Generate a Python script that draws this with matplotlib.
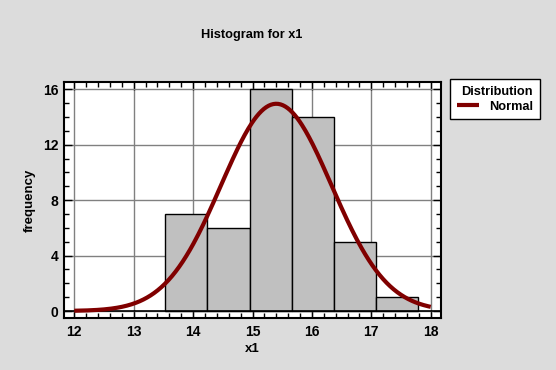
import numpy as np
import matplotlib
matplotlib.use("Agg")
import matplotlib.pyplot as plt
from matplotlib.ticker import MultipleLocator

# Data
bin_edges = [13.52, 14.23, 14.95, 15.66, 16.37, 17.08, 17.79]
counts = [7, 6, 16, 14, 5, 1]
# fitted normal distribution parameters
fit_mean = 15.40
fit_sd = 0.93
curve_range = [12.0, 18.0]
xticks = [12, 13, 14, 15, 16, 17, 18]
yticks = [0, 4, 8, 12, 16]

plt.rcParams['font.family'] = ['Liberation Sans', 'DejaVu Sans']
plt.rcParams['font.weight'] = 'bold'

bg = '#dcdcdc'
fig = plt.figure(figsize=(5.56, 3.70), dpi=100, facecolor=bg)
ax = fig.add_axes([64/556, 1-318/370, (441-64)/556, (318-82)/370])
ax.set_facecolor('white')

edges = np.array(bin_edges)
widths = np.diff(edges)
ax.bar(edges[:-1], counts, width=widths, align='edge', color='#c0c0c0',
       edgecolor='black', linewidth=1.0, zorder=3)

n = sum(counts)
bw = widths.mean()
xs = np.linspace(curve_range[0], curve_range[1], 300)
ys = n * bw * np.exp(-0.5 * ((xs - fit_mean) / fit_sd) ** 2) / (fit_sd * np.sqrt(2 * np.pi))
line, = ax.plot(xs, ys, color='#800000', linewidth=3.0, zorder=5,
                solid_capstyle='butt', label='Normal')

ax.axhline(0, color='black', linewidth=1.2, zorder=4)

ax.set_xlim(11.827, 18.173)
ax.set_ylim(-0.505, 16.53)
ax.set_xticks(xticks)
ax.set_yticks(yticks)
ax.xaxis.set_minor_locator(MultipleLocator(0.2))
ax.yaxis.set_minor_locator(MultipleLocator(1))
ax.grid(True, which='major', color='#808080', linewidth=1.0, zorder=0)
ax.set_axisbelow(True)

ax.tick_params(which='both', direction='in', top=True, right=True,
               labelsize=10, width=1.0, colors='black')
ax.tick_params(axis='x', which='major', pad=5)
ax.tick_params(axis='y', which='major', pad=4)
ax.tick_params(which='major', length=6)
ax.tick_params(which='minor', length=3.5)
for lab in ax.get_xticklabels() + ax.get_yticklabels():
    lab.set_fontweight('bold')
for s in ax.spines.values():
    s.set_linewidth(1.5)
    s.set_color('black')

ax.set_xlabel('x1', fontsize=9.5, fontweight='bold', labelpad=3)
ax.set_ylabel('frequency', fontsize=9.5, fontweight='bold', labelpad=5)
fig.text(252/556, 1-35/370, 'Histogram for x1', ha='center', va='center',
         fontsize=9.2, fontweight='bold')

leg = fig.legend(handles=[line], labels=['Normal'], title='Distribution',
                 loc='upper left', bbox_to_anchor=(450/556, 1-79/370),
                 fancybox=False, edgecolor='black', facecolor='white',
                 framealpha=1, fontsize=9.2, title_fontsize=9.2,
                 handlelength=1.7, handletextpad=0.8, borderpad=0.3,
                 labelspacing=0.2, borderaxespad=0)
leg._legend_box.align = 'right'
leg._legend_box.pad = 5
leg.get_title().set_fontweight('bold')
leg.get_frame().set_linewidth(1.0)
for t in leg.get_texts():
    t.set_fontweight('bold')

fig.savefig('out.png', dpi=100, facecolor=bg)
